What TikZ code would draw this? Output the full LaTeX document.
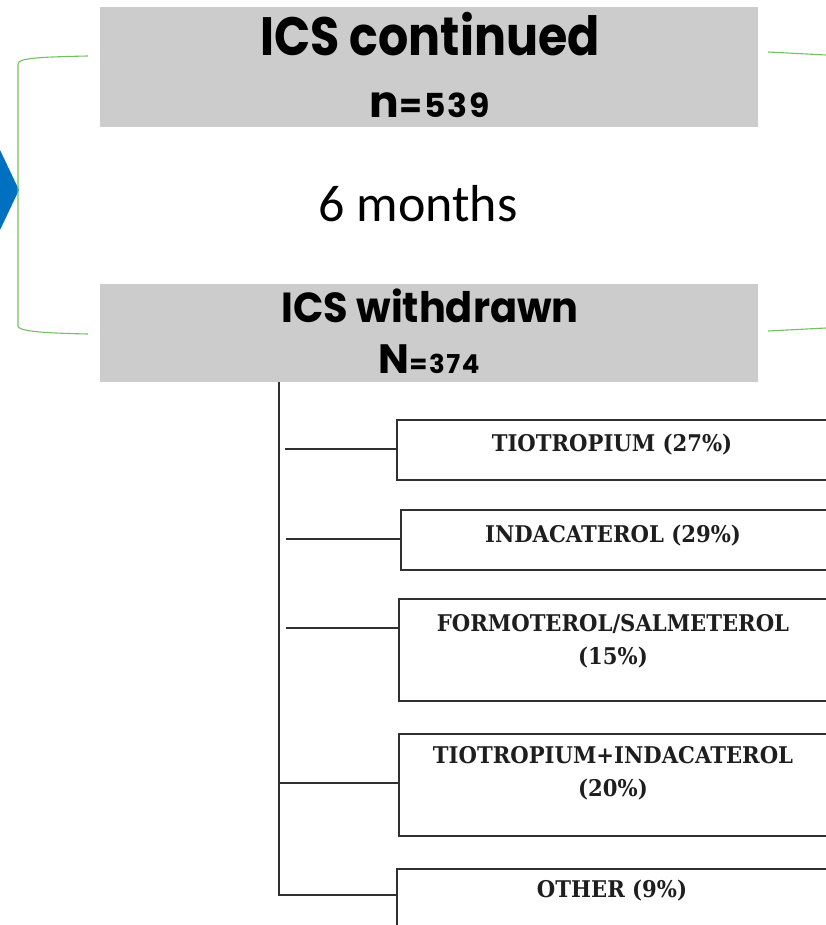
\documentclass[tikz,border=0pt]{standalone}
\usepackage{fontspec}
\setmainfont{DejaVu Serif}
\newfontfamily\headfont[FakeStretch=0.88]{Poppins}
\newfontfamily\subheadfont[FakeStretch=0.95]{Poppins}
\newfontfamily\countfont{Poppins}
\newfontfamily\digitfont[LetterSpace=6]{Poppins}
\newfontfamily\bodyfont{Carlito}
\newfontfamily\boxfont[FakeStretch=0.92]{DejaVu Serif}
\definecolor{armgray}{HTML}{CCCCCC}
\definecolor{chevblue}{HTML}{0070C0}
\definecolor{bracketgreen}{HTML}{74BE64}
\definecolor{boxline}{HTML}{303030}
\definecolor{inkgray}{HTML}{1E1E1E}
\begin{document}
\begin{tikzpicture}[x=1pt,y=-1pt,
  armbox/.style={fill=armgray, draw=none, minimum width=658pt, inner sep=0pt, anchor=north west},
  headtext/.style={text=black, anchor=base, inner sep=0pt},
  drugbox/.style={draw=boxline, line width=1.8pt, fill=white, inner sep=0pt, anchor=north west},
  drugtext/.style={font=\boxfont\bfseries\fontsize{23}{33}\selectfont, text=inkgray, align=center, inner sep=0pt},
  bracket/.style={draw=bracketgreen, line width=1.1pt},
  tree/.style={draw=boxline, line width=1.8pt}]
\useasboundingbox (0,0) rectangle (826,925);
\clip (0,0) rectangle (826,925);

% chevron entering from the left edge
\fill[chevblue] (-20,150) -- (0,150) -- (19,190) -- (0,230) -- (-20,230) -- cycle;

% grey arm panels
\node[armbox, minimum height=120pt] (cont) at (100,7) {};
\node[armbox, minimum height=98pt] (withd) at (100,284) {};

\node[headtext, font=\headfont\bfseries\fontsize{54}{54}\selectfont] (contT) at (430,56) {ICS continued};
\node[headtext, font=\countfont\bfseries] (contN) at (430,118)
  {\fontsize{44}{44}\selectfont n\digitfont\bfseries\fontsize{33}{33}\selectfont=539};
\node[font=\bodyfont\fontsize{52}{52}\selectfont, anchor=base, inner sep=0pt] (months) at (418,222) {6 months};
\node[headtext, font=\subheadfont\bfseries\fontsize{42}{42}\selectfont] (withdT) at (430,322) {ICS withdrawn};
\node[headtext, font=\countfont\bfseries] (withdN) at (429,373)
  {\fontsize{41}{41}\selectfont N\digitfont\bfseries\fontsize{26}{26}\selectfont=374};

% green brackets
\draw[bracket] (88,56) .. controls (40,57) and (18,58) .. (18,64) -- (18,326)
  .. controls (18,331) and (40,333) .. (88,334);
\coordinate (rt1) at (768,52);
\coordinate (rt2) at (826,55);
\coordinate (rb1) at (768,331);
\coordinate (rb2) at (826,328);
\draw[bracket] (rt1) -- (rt2);
\draw[bracket] (rb1) -- (rb2);

% treatment boxes
\node[drugbox, minimum width=436pt, minimum height=60pt] (b1) at (396,419) {};
\node[drugbox, minimum width=432pt, minimum height=60pt] (b2) at (400,509) {};
\node[drugbox, minimum width=434pt, minimum height=102pt] (b3) at (398,598) {};
\node[drugbox, minimum width=434pt, minimum height=102pt] (b4) at (398,733) {};
\node[drugbox, minimum width=436pt, minimum height=80pt] (b5) at (396,868) {};

\node[drugtext] (t1) at (612,445) {TIOTROPIUM (27\%)};
\node[drugtext] (t2) at (613,536) {INDACATEROL (29\%)};
\node[drugtext] (t3) at (613,641) {FORMOTEROL/SALMETEROL\\(15\%)};
\node[drugtext] (t4) at (613,773) {TIOTROPIUM+INDACATEROL\\(20\%)};
\node[drugtext] (t5) at (612,891) {OTHER (9\%)};

% tree of branches
\coordinate (trunkTop) at (279,382);
\coordinate (trunkEnd) at (279,895);
\coordinate (s1) at (285,449);
\coordinate (s2) at (286,539);
\coordinate (s3) at (286,628);
\coordinate (j4) at (279,783);
\draw[tree] (trunkTop) -- (trunkEnd) -- (trunkEnd -| b5.west);
\draw[tree] (s1) -- (s1 -| b1.west);
\draw[tree] (s2) -- (s2 -| b2.west);
\draw[tree] (s3) -- (s3 -| b3.west);
\draw[tree] (j4) -- (j4 -| b4.west);
\end{tikzpicture}
\end{document}
